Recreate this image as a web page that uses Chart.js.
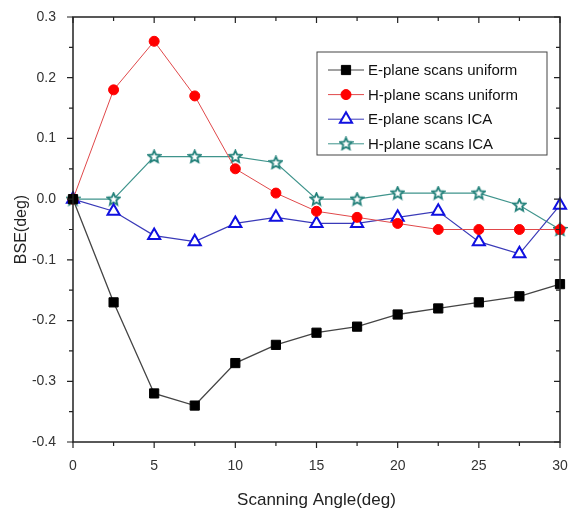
<!DOCTYPE html>
<html>
<head>
<meta charset="utf-8">
<script src="https://cdn.jsdelivr.net/npm/chart.js@4.4.1/dist/chart.umd.min.js"></script>
<style>
  html, body { margin: 0; padding: 0; background: #fff; }
  #wrap { width: 569px; height: 511px; }
</style>
</head>
<body>
<div id="wrap"><canvas id="bse-chart" width="569" height="511"></canvas></div>
<script>
// scanning angles (deg)
const angles = [0, 2.5, 5, 7.5, 10, 12.5, 15, 17.5, 20, 22.5, 25, 27.5, 30];

// BSE values (deg)
const ePlaneUniform = [0, -0.17, -0.32, -0.34, -0.27, -0.24, -0.22, -0.21, -0.19, -0.18, -0.17, -0.16, -0.14];
const hPlaneUniform = [0, 0.18, 0.26, 0.17, 0.05, 0.01, -0.02, -0.03, -0.04, -0.05, -0.05, -0.05, -0.05];
const ePlaneICA = [0, -0.02, -0.06, -0.07, -0.04, -0.03, -0.04, -0.04, -0.03, -0.02, -0.07, -0.09, -0.01];
const hPlaneICA = [0, 0, 0.07, 0.07, 0.07, 0.06, 0, 0, 0.01, 0.01, 0.01, -0.01, -0.05];

const seriesNames = ["E-plane scans uniform", "H-plane scans uniform", "E-plane scans ICA", "H-plane scans ICA"];

// hollow 5 point star used as marker
function makeStar(color) {
  const c = document.createElement("canvas");
  c.width = 15; c.height = 15;
  const g = c.getContext("2d");
  g.strokeStyle = color;
  g.lineWidth = 1.8;
  g.fillStyle = "#fff";
  g.beginPath();
  for (let i = 0; i < 10; i++) {
    const r = i % 2 === 0 ? 6.3 : 2.9;
    const a = -Math.PI / 2 + i * Math.PI / 5;
    const px = 7.5 + r * Math.cos(a), py = 7.8 + r * Math.sin(a);
    if (i === 0) g.moveTo(px, py); else g.lineTo(px, py);
  }
  g.closePath();
  g.fill();
  g.stroke();
  return c;
}
const starImg = makeStar("#1f7f78");

function toXY(ys) {
  return angles.map((a, i) => ({ x: a, y: ys[i] }));
}

const font = "'Liberation Sans', Arial, sans-serif";

// frame, minor/major ticks and legend box
const framePlugin = {
  id: "frame",
  afterDraw(chart) {
    const ctx = chart.ctx;
    const a = chart.chartArea;
    const xs = chart.scales.x, ys = chart.scales.y;
    ctx.save();
    ctx.strokeStyle = "#222";
    ctx.lineWidth = 1.5;
    ctx.strokeRect(a.left, a.top, a.right - a.left, a.bottom - a.top);
    ctx.lineWidth = 1.2;
    ctx.beginPath();
    for (let v = 0; v <= 30.001; v += 2.5) {
      const px = xs.getPixelForValue(v);
      const len = (Math.round(v * 10) % 50 === 0) ? 6 : 4;
      ctx.moveTo(px, a.bottom); ctx.lineTo(px, a.bottom + len);
      ctx.moveTo(px, a.top); ctx.lineTo(px, a.top + len);
    }
    for (let k = -8; k <= 6; k++) {
      const py = ys.getPixelForValue(k * 0.05);
      const len = (k % 2 === 0) ? 6 : 4;
      ctx.moveTo(a.left, py); ctx.lineTo(a.left - len, py);
      ctx.moveTo(a.right, py); ctx.lineTo(a.right - len, py);
    }
    ctx.stroke();

    // legend
    const bx = 317, by = 52, bw = 230, bh = 103;
    ctx.fillStyle = "#fff";
    ctx.fillRect(bx, by, bw, bh);
    ctx.strokeStyle = "#444";
    ctx.lineWidth = 1;
    ctx.strokeRect(bx, by, bw, bh);
    ctx.font = "15px " + font;
    ctx.textBaseline = "middle";
    chart.data.datasets.forEach((ds, i) => {
      const cy = by + 18 + i * 24.6;
      ctx.strokeStyle = ds.borderColor;
      ctx.lineWidth = 1;
      ctx.beginPath();
      ctx.moveTo(bx + 11, cy); ctx.lineTo(bx + 47, cy);
      ctx.stroke();
      ctx.fillStyle = ds.pointBackgroundColor;
      ctx.strokeStyle = ds.pointBorderColor;
      ctx.lineWidth = ds.pointBorderWidth;
      Chart.helpers.drawPoint(ctx, {
        pointStyle: ds.pointStyle,
        radius: ds.pointRadius,
        borderWidth: ds.pointBorderWidth,
        rotation: 0
      }, bx + 29, cy);
      ctx.fillStyle = "#111";
      ctx.fillText(ds.label, bx + 51, cy + 1);
    });
    ctx.restore();
  }
};

const ctxBse = document.querySelector("#bse-chart").getContext("2d");

const bseChart = new Chart(ctxBse, {
  type: "line",
  data: {
    datasets: [
      {
        label: seriesNames[0],
        data: toXY(ePlaneUniform),
        borderColor: "#444",
        backgroundColor: "#000",
        borderWidth: 1.3,
        pointStyle: "rect",
        pointRadius: 6.5,
        pointBorderWidth: 1,
        pointBorderColor: "#000",
        pointBackgroundColor: "#000",
      },
      {
        label: seriesNames[1],
        data: toXY(hPlaneUniform),
        borderColor: "#e0484a",
        backgroundColor: "#f00",
        borderWidth: 1,
        pointStyle: "circle",
        pointRadius: 5,
        pointBorderWidth: 1,
        pointBorderColor: "#f00",
        pointBackgroundColor: "#f00",
      },
      {
        label: seriesNames[2],
        data: toXY(ePlaneICA),
        borderColor: "#3a3ab8",
        backgroundColor: "#fff",
        borderWidth: 1.2,
        pointStyle: "triangle",
        pointRadius: 7,
        pointBorderWidth: 2,
        pointBorderColor: "#1010e0",
        pointBackgroundColor: "#fff",
      },
      {
        label: seriesNames[3],
        data: toXY(hPlaneICA),
        borderColor: "#3f948c",
        backgroundColor: "#fff",
        borderWidth: 1.2,
        pointStyle: starImg,
        pointRadius: 7,
        pointBorderWidth: 1,
        pointBorderColor: "#1f7f78",
        pointBackgroundColor: "#fff",
      },
    ],
  },
  options: {
    responsive: false,
    animation: false,
    clip: false,
    layout: { padding: { top: 17, right: 8, left: 0, bottom: 0 } },
    plugins: {
      legend: { display: false },
      tooltip: { enabled: false },
    },
    scales: {
      x: {
        type: "linear",
        min: 0,
        max: 30,
        grid: { display: false },
        border: { display: false },
        ticks: {
          stepSize: 5,
          padding: 8,
          color: "#333",
          font: { family: font, size: 14 },
          maxRotation: 0,
        },
        title: {
          display: true,
          text: "Scanning Angle(deg)",
          color: "#222",
          font: { family: font, size: 17 },
          padding: { top: 9, bottom: 0 },
        },
        afterFit(scale) {
          scale.height = 69;
          scale.paddingLeft = 0;
          scale.paddingRight = 0;
        },
      },
      y: {
        min: -0.4,
        max: 0.3,
        grid: { display: false },
        border: { display: false },
        ticks: {
          stepSize: 0.1,
          padding: 9,
          color: "#333",
          font: { family: font, size: 14 },
          callback: (v) => (Math.abs(v) < 1e-9 ? 0 : v).toFixed(1),
        },
        title: {
          display: true,
          text: "BSE(deg)",
          color: "#222",
          font: { family: font, size: 16 },
          padding: { top: 12, bottom: 0 },
        },
        afterFit(scale) {
          scale.width = 73;
          scale.paddingTop = 0;
          scale.paddingBottom = 0;
        },
      },
    },
  },
  plugins: [framePlugin],
});
</script>
</body>
</html>
